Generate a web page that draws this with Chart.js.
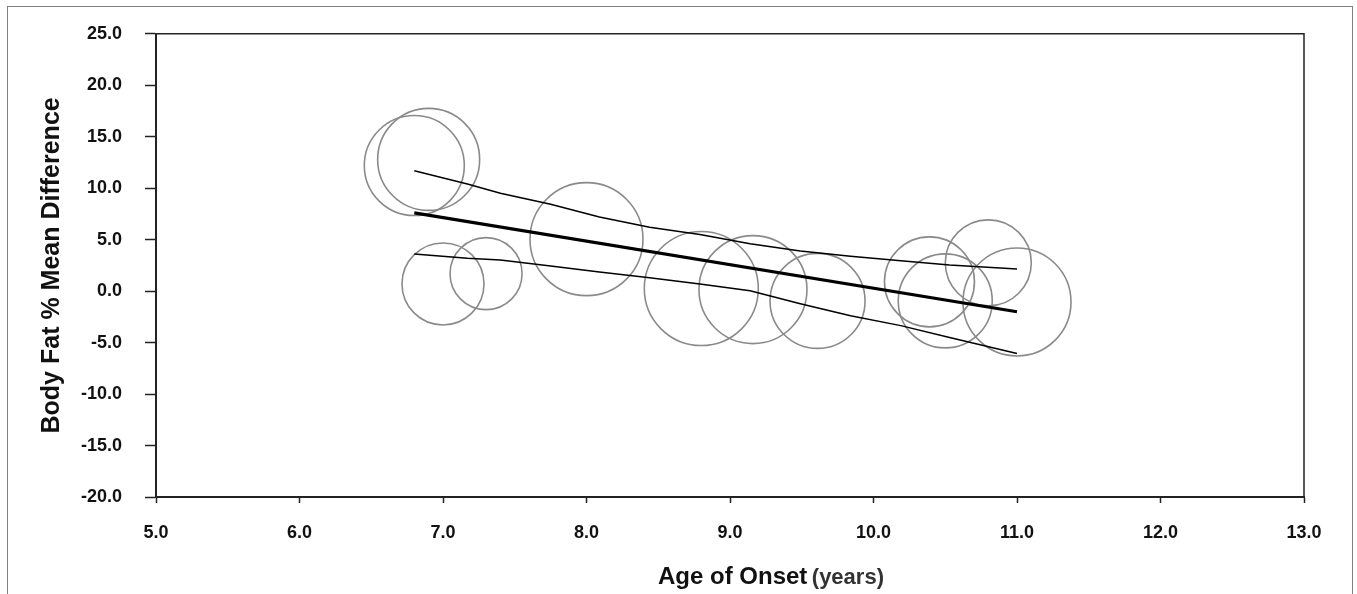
<!doctype html>
<html lang="en">
<head>
  <meta charset="utf-8" />
  <title>Body Fat % Mean Difference vs Age of Onset</title>
  <style>
    *{box-sizing:border-box}
    html,body{margin:0;padding:0;background:#fff}
    body{width:1357px;height:594px;overflow:hidden;position:relative;font-family:Arial,"Liberation Sans",sans-serif}
    .frame{position:absolute;left:7px;top:6px;width:1346px;height:620px;border:1.5px solid #808080}
    .wrap{position:absolute;left:0;top:0;width:1357px;height:594px}
    .xtitle{position:absolute;left:0;width:1542px;top:562px;text-align:center;font-weight:bold;white-space:nowrap}
    .xtitle .main{font-size:24px;color:#111}
    .xtitle .unit{font-size:22px;color:#333}
  </style>
  <script src="https://cdn.jsdelivr.net/npm/chart.js@4.4.1/dist/chart.umd.min.js"></script>
</head>
<body>
  <div class="frame"></div>
  <div class="wrap"><canvas id="c" width="1357" height="594"></canvas></div>
  <div class="xtitle"><span class="main">Age of Onset</span> <span class="unit">(years)</span></div>

<script>
// studies: age of onset, mean difference, bubble size (weight)
const studyAge  = [6.8, 6.9, 7.0, 7.3, 8.0, 8.8, 9.16, 9.61, 10.39, 10.5, 10.8, 11.0];
const studyDiff = [12.2, 12.8, 0.7, 1.7, 5.05, 0.25, 0.15, -0.95, 0.9, -0.95, 2.75, -1.05];
const studyWeight = [50, 51, 41, 36, 56.5, 57, 54, 47.5, 45, 47, 43, 54];

// meta-regression line and confidence band
const regAge  = [6.8, 11.0];
const regDiff = [7.6, -2.0];
const ciAge   = [6.8, 7.17, 7.4, 7.75, 8.09, 8.44, 8.79, 9.14, 9.49, 9.84, 10.19, 10.53, 11.0];
const ciUpper = [11.7, 10.4, 9.5, 8.45, 7.2, 6.2, 5.5, 4.6, 3.9, 3.4, 2.95, 2.55, 2.15];
const ciLower = [3.6, 3.2, 3.03, 2.45, 1.87, 1.29, 0.7, 0.03, -1.23, -2.4, -3.35, -4.5, -6.05];

// axes
const xTicks = [5, 6, 7, 8, 9, 10, 11, 12, 13];
const yTicks = [-20, -15, -10, -5, 0, 5, 10, 15, 20, 25];

const pts = (xs, ys) => xs.map((x, i) => ({ x, y: ys[i] }));
const font = "Arial, 'Liberation Sans', sans-serif";

const boxPlugin = {
  id: "box",
  afterDatasetsDraw(chart){
    const { ctx, chartArea: a } = chart;
    ctx.save();
    ctx.strokeStyle = "#222"; ctx.lineWidth = 1.5;
    ctx.beginPath();
    ctx.moveTo(a.left, a.top); ctx.lineTo(a.right, a.top); ctx.lineTo(a.right, a.bottom);
    ctx.stroke();
    ctx.restore();
  }
};

new Chart(document.getElementById("c"), {
  type: "bubble",
  data: {
    datasets: [
      { type:"line", data: pts(regAge, regDiff), borderColor:"#000", borderWidth:3.2, pointRadius:0, fill:false, order:1 },
      { type:"line", data: pts(ciAge, ciUpper), borderColor:"#000", borderWidth:1.5, pointRadius:0, fill:false, tension:0, order:1 },
      { type:"line", data: pts(ciAge, ciLower), borderColor:"#000", borderWidth:1.5, pointRadius:0, fill:false, tension:0, order:1 },
      { data: studyAge.map((x, i) => ({ x, y: studyDiff[i], r: studyWeight[i] })),
        backgroundColor:"rgba(0,0,0,0)", borderColor:"#8a8a8a", borderWidth:1.6,
        hoverRadius:0, order:2 }
    ]
  },
  options: {
    responsive:false, animation:false, events:[],
    layout:{ autoPadding:false, padding:{ top:32, right:53, left:0, bottom:0 } },
    plugins:{ legend:{display:false}, tooltip:{enabled:false} },
    scales: {
      x: {
        type:"linear", min:5, max:13,
        afterFit: s => { s.height = 97; },
        afterBuildTicks: s => { s.ticks = xTicks.map(v => ({ value:v })); },
        border:{ color:"#222", width:2 },
        grid:{ drawOnChartArea:false, tickLength:6, tickColor:"#222", tickWidth:1.5 },
        ticks:{ padding:19, color:"#111", font:{ family:font, size:18, weight:"bold" }, callback: v => v.toFixed(1) }
      },
      y: {
        type:"linear", min:-20, max:25,
        afterFit: s => { s.width = 156; },
        afterBuildTicks: s => { s.ticks = yTicks.map(v => ({ value:v })); },
        border:{ color:"#222", width:2 },
        grid:{ drawOnChartArea:false, tickLength:11, tickColor:"#222", tickWidth:1.5 },
        ticks:{ padding:23, color:"#111", font:{ family:font, size:18, weight:"bold" }, callback: v => v.toFixed(1) },
        title:{ display:true, text:"Body Fat % Mean Difference", color:"#111",
                font:{ family:font, size:25, weight:"bold" }, padding:{ top:37, bottom:0 } }
      }
    }
  },
  plugins:[boxPlugin]
});
</script>
</body>
</html>
